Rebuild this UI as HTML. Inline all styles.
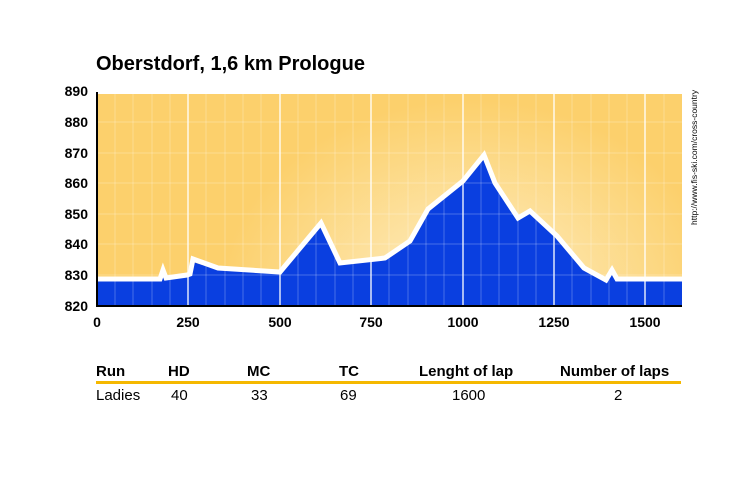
<!DOCTYPE html>
<html><head><style>
body{margin:0;background:#fff;width:747px;height:473px;overflow:hidden;font-family:"Liberation Sans",Arial,sans-serif}
</style></head><body>
<svg width="747" height="473" xmlns="http://www.w3.org/2000/svg" font-family="Liberation Sans, Arial, sans-serif">
<defs>
<radialGradient id="bg" cx="470" cy="300" r="250" gradientUnits="userSpaceOnUse" gradientTransform="translate(470 300) scale(1 0.8) translate(-470 -300)">
<stop offset="0" stop-color="#fffaf0"/><stop offset="0.4" stop-color="#fde3a4"/><stop offset="1" stop-color="#fcd06c"/>
</radialGradient>
<clipPath id="c"><rect x="97" y="94" width="585" height="212"/></clipPath>
</defs>
<text x="96" y="70" font-size="20" font-weight="bold">Oberstdorf, 1,6 km Prologue</text>
<rect x="97" y="94" width="585" height="212" fill="url(#bg)"/>
<g clip-path="url(#c)">
<polygon fill="#0a3fe0" points="97,306 97,281 160,281 163,273 166,280 187,277 190,276 193,262 218,270 280,274 321,226 340,265 385,260 410,243 428,211 463,183 484,159 495,185 518,220 530,213 557,238 584,270 606,282 612,273 617,281 682,281 682,306"/>
<g stroke="#fff" stroke-opacity="0.25" stroke-width="1">
<path d="M115 94V306M133 94V306M152 94V306M170 94V306M206 94V306M225 94V306M243 94V306M261 94V306M298 94V306M316 94V306M335 94V306M353 94V306M389 94V306M408 94V306M426 94V306M444 94V306M481 94V306M499 94V306M518 94V306M536 94V306M572 94V306M591 94V306M609 94V306M627 94V306M664 94V306"/>
<path d="M97 122H682M97 153H682M97 183H682M97 214H682M97 244H682M97 275H682"/>
</g>
<g stroke="#fff" stroke-opacity="0.65" stroke-width="2">
<path d="M188 94V306M280 94V306M371 94V306M463 94V306M554 94V306M645 94V306"/>
</g>
<polyline fill="none" stroke="#fff" stroke-width="5" stroke-linejoin="miter" points="97,279 160,279 163,270 166,278 187,275 190,274 193,259 218,268 280,272 321,223 340,263 385,258 410,241 428,209 463,181 484,155 495,183 518,218 530,211 557,236 584,268 606,280 612,270 617,279 682,279"/>
</g>
<path d="M97 92V306H682" fill="none" stroke="#000" stroke-width="2"/>
<g font-size="14" font-weight="bold" text-anchor="end">
<text x="88" y="96">890</text><text x="88" y="127">880</text><text x="88" y="158">870</text><text x="88" y="188">860</text><text x="88" y="219">850</text><text x="88" y="249">840</text><text x="88" y="280">830</text><text x="88" y="311">820</text>
</g>
<g font-size="14" font-weight="bold" text-anchor="middle">
<text x="97" y="327">0</text><text x="188" y="327">250</text><text x="280" y="327">500</text><text x="371" y="327">750</text><text x="463" y="327">1000</text><text x="554" y="327">1250</text><text x="645" y="327">1500</text>
</g>
<text transform="translate(697 225) rotate(-90)" font-size="8.5">http://www.fis-ski.com/cross-country</text>
<g font-size="15" font-weight="bold">
<text x="96" y="376">Run</text><text x="168" y="376">HD</text><text x="247" y="376">MC</text><text x="339" y="376">TC</text><text x="419" y="376">Lenght of lap</text><text x="560" y="376">Number of laps</text>
</g>
<rect x="96" y="381" width="585" height="3" fill="#f5b800"/>
<g font-size="15">
<text x="96" y="400">Ladies</text><text x="171" y="400">40</text><text x="251" y="400">33</text><text x="340" y="400">69</text><text x="452" y="400">1600</text><text x="614" y="400">2</text>
</g>
</svg>
</body></html>
